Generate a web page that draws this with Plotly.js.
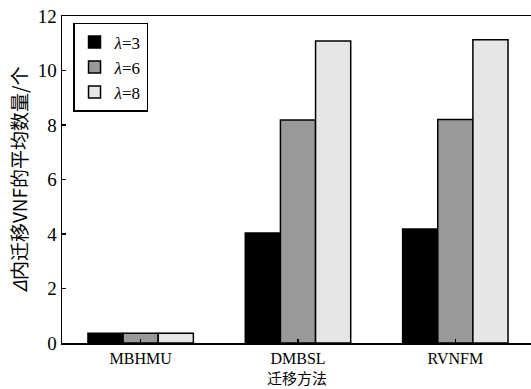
<!DOCTYPE html>
<html>
<head>
<meta charset="utf-8">
<script src="https://cdn.plot.ly/plotly-3.0.1.min.js"></script>
<style>body{margin:0;padding:0;background:#fff;}</style>
</head>
<body>
<div id="chart" style="width:531px;height:389px;"></div>
<script>
const categories = ["MBHMU", "DMBSL", "RVNFM"];
const seriesNames = ["<i>λ</i>=3", "<i>λ</i>=6", "<i>λ</i>=8"];
const lambda3 = [0.36, 4.04, 4.18];
const lambda6 = [0.36, 8.18, 8.20];
const lambda8 = [0.36, 11.08, 11.13];
const yTicks = [0, 2, 4, 6, 8, 10, 12];
const colors = ["#000000", "#999999", "#e6e6e6"];
const xTitle = "迁移方法";
const yTitle = "<i>Δ</i>内迁移VNF的平均数量/个";

const serif = "Liberation Serif";
const cjk = "Noto Sans CJK SC";
const values = [lambda3, lambda6, lambda8];

const data = values.map((v, i) => ({
  type: "bar",
  x: categories,
  y: v,
  name: seriesNames[i],
  marker: {color: colors[i], line: {color: "#000", width: 1.5}}
}));

const layout = {
  width: 531, height: 389,
  margin: {l: 62, r: 0, t: 16, b: 46},
  paper_bgcolor: "#fff", plot_bgcolor: "#fff",
  font: {family: serif, size: 18, color: "#000"},
  barmode: "group", bargap: 0.33, bargroupgap: 0,
  showlegend: true,
  legend: {
    x: 0.0235, y: 0.979, xanchor: "left", yanchor: "top",
    bordercolor: "#000", borderwidth: 1.5, bgcolor: "#fff",
    font: {family: serif, size: 17, color: "#000"},
    itemwidth: 30,
    tracegroupgap: 0
  },
  xaxis: {
    type: "category",
    range: [-0.5, 2.481],
    showline: true, linecolor: "#000", linewidth: 1.5, mirror: true,
    ticks: "inside", ticklen: 4, tickwidth: 1.2, tickcolor: "#000",
    showgrid: false, zeroline: false,
    tickfont: {family: serif, size: 16, color: "#000"}
  },
  yaxis: {
    range: [0, 12],
    tickvals: yTicks,
    showline: true, linecolor: "#000", linewidth: 1.5, mirror: true,
    ticks: "inside", ticklen: 4, tickwidth: 1.2, tickcolor: "#000",
    showgrid: false, zeroline: false,
    tickfont: {family: serif, size: 19, color: "#000"},
    title: {text: yTitle, font: {family: cjk, size: 19, color: "#000"}, standoff: 5}
  },
  annotations: [{
    text: xTitle, xref: "paper", yref: "paper",
    x: (297 - 62) / 469, y: -(389 - 343) / 327,
    xanchor: "center", yanchor: "bottom", showarrow: false,
    yshift: 0,
    font: {family: cjk, size: 15, color: "#000"},
    borderpad: 0
  }]
};

Plotly.newPlot("chart", data, layout, {displayModeBar: false, staticPlot: true});
</script>
</body>
</html>
